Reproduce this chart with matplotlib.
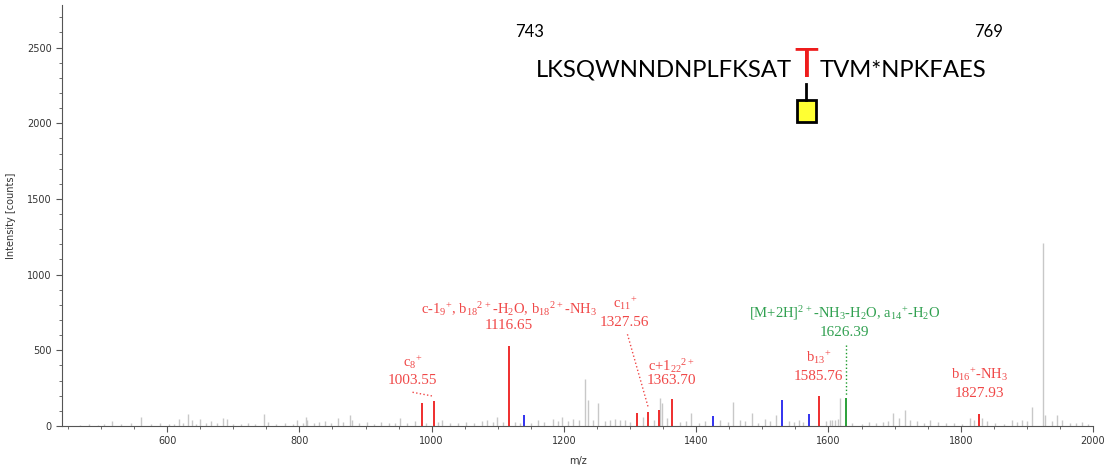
import matplotlib.pyplot as plt
from matplotlib.patches import Rectangle
from matplotlib.lines import Line2D
from matplotlib.ticker import MultipleLocator

plt.rcParams['mathtext.default'] = 'regular'

# unassigned peaks (grey)
grey_mz = [468, 482, 495, 505, 517, 530, 545, 561, 575, 589, 603, 610, 618, 624, 631, 638, 644,
           649, 658, 667, 676, 685, 690, 700, 712, 722, 733, 746, 752, 765, 778, 790, 797, 805,
           810, 812, 822, 830, 839, 848, 859, 866, 876, 880, 890, 902, 913, 924, 935, 944, 952,
           962, 975, 992, 1010, 1015, 1028, 1040, 1052, 1064, 1076, 1083, 1092, 1099, 1108, 1126,
           1134, 1150, 1161, 1170, 1183, 1191, 1197, 1206, 1214, 1222, 1232, 1236, 1244, 1251,
           1262, 1270, 1277, 1285, 1292, 1300, 1320, 1336, 1345, 1348, 1356, 1375, 1384, 1392,
           1404, 1414, 1436, 1448, 1456, 1466, 1474, 1484, 1494, 1504, 1512, 1521, 1540, 1548,
           1556, 1562, 1596, 1602, 1606, 1610, 1614, 1618, 1636, 1650, 1662, 1672, 1683, 1690,
           1698, 1706, 1715, 1724, 1734, 1745, 1754, 1765, 1778, 1790, 1802, 1814, 1820, 1832,
           1840, 1852, 1866, 1877, 1885, 1893, 1900, 1908, 1925, 1928, 1938, 1946, 1953, 1965,
           1975, 1983, 1992]
grey_int = [8, 12, 6, 10, 35, 14, 18, 60, 12, 20, 10, 14, 47, 22, 78, 40, 16,
            47, 18, 35, 20, 55, 44, 16, 12, 20, 14, 77, 24, 12, 18, 10, 40, 22,
            57, 40, 18, 26, 35, 20, 55, 28, 73, 40, 20, 24, 16, 25, 18, 22, 50,
            20, 30, 18, 24, 40, 22, 18, 26, 20, 30, 40, 26, 62, 24, 28,
            20, 22, 40, 26, 45, 30, 62, 30, 45, 38, 311, 172, 40, 150,
            35, 40, 45, 40, 38, 26, 62, 40, 183, 150, 50, 24, 30, 88,
            22, 35, 40, 28, 161, 40, 30, 88, 22, 46, 30, 73, 30, 24,
            40, 26, 35, 38, 40, 42, 44, 183, 22, 16, 24, 18, 26, 30,
            84, 50, 108, 40, 33, 20, 40, 24, 18, 22, 16, 51, 40, 50,
            30, 20, 16, 40, 24, 40, 30, 128, 1210, 73, 30, 73, 40, 22,
            18, 25, 16]

# assigned peaks
red_mz = [985, 1003.55, 1116.65, 1310, 1327.56, 1344, 1363.70, 1585.76, 1827.93]
red_int = [155, 168, 529, 84, 95, 106, 176, 196, 82]
blue_mz = [1140, 1426, 1529.5, 1571]
blue_int = [73, 66, 174, 79]
green_mz = [1626.39]
green_int = [187]

# annotations: ion names, m/z values, and where they sit
ann_names = [r'c$_{8}$$^{+}$',
             r'c-1$_{9}$$^{+}$, b$_{18}$$^{2+}$-H$_{2}$O, b$_{18}$$^{2+}$-NH$_{3}$',
             r'c$_{11}$$^{+}$',
             r'c+1$_{22}$$^{2+}$',
             r'[M+2H]$^{2+}$-NH$_{3}$-H$_{2}$O, a$_{14}$$^{+}$-H$_{2}$O',
             r'b$_{13}$$^{+}$',
             r'b$_{16}$$^{+}$-NH$_{3}$']
ann_vals = ['1003.55', '1116.65', '1327.56', '1363.70', '1626.39', '1585.76', '1827.93']
ann_x = [971, 1117, 1292, 1363, 1624.5, 1585, 1828]
ann_name_y = [423, 774, 807, 399, 745, 452, 342]
ann_val_y = [300, 663, 683, 300, 620, 326, 216]

red = '#ee1c1c'
red_txt = '#f04848'
green = '#1a9a2a'
green_txt = '#30a050'
blue = '#2222ee'
grey = '#c8c8c8'
ann_col = [red_txt, red_txt, red_txt, red_txt, green_txt, red_txt, red_txt]

fig = plt.figure(figsize=(11.09, 4.70), dpi=100)
ax = fig.add_axes([0.0559, 0.0936, 0.9297, 0.8954])

ax.vlines(grey_mz, 0, grey_int, color=grey, lw=1.0)
ax.vlines(red_mz, 0, red_int, color=red, lw=1.3)
ax.vlines(blue_mz, 0, blue_int, color=blue, lw=1.3)
ax.vlines(green_mz, 0, green_int, color=green, lw=1.3)

for name, val, x, ny, vy, c in zip(ann_names, ann_vals, ann_x, ann_name_y, ann_val_y, ann_col):
    ax.text(x, ny, name, color=c, ha='center', va='center', fontsize=10.5, family='Liberation Serif')
    ax.text(x, vy, val, color=c, ha='center', va='center', fontsize=11, family='Liberation Serif')

# dotted leader lines
ax.plot([971, 1003.55], [223, 196], ls=':', color=red_txt, lw=1)
ax.plot([1296, 1327.56], [606, 121], ls=':', color=red_txt, lw=1)
ax.plot([1626.39, 1626.39], [536, 205], ls=':', color=green, lw=1)

ax.set_xlim(441, 2000)
ax.set_ylim(0, 2780)
ax.xaxis.set_major_locator(MultipleLocator(200))
ax.xaxis.set_minor_locator(MultipleLocator(50))
ax.yaxis.set_major_locator(MultipleLocator(500))
ax.yaxis.set_minor_locator(MultipleLocator(100))
for s in ['top', 'right']:
    ax.spines[s].set_visible(False)
for s in ['left', 'bottom']:
    ax.spines[s].set_color('#555555')
ax.tick_params(which='major', length=4, colors='#555555', labelsize=7, labelcolor='#333333')
ax.tick_params(which='minor', length=2.5, colors='#555555')
ax.set_xlabel('m/z', fontsize=7, color='#333333', labelpad=7)
ax.set_ylabel('Intensity [counts]', fontsize=7, color='#333333', labelpad=8)

# peptide sequence
W, H = 1109, 470
seq_font = 'Lato'
fig.text(515 / W, 1 - 37 / H, '743', fontsize=12, family=seq_font, ha='left', va='baseline')
fig.text(1003 / W, 1 - 37 / H, '769', fontsize=12, family=seq_font, ha='right', va='baseline')
fig.text(792 / W, 1 - 77 / H, 'LKSQWNNDNPLFKSAT', fontsize=17.2, family=seq_font, ha='right', va='baseline')
fig.text(806 / W, 1 - 77 / H, 'T', fontsize=29, family=seq_font, color=red, ha='center', va='baseline')
fig.text(820 / W, 1 - 77 / H, 'TVM*NPKFAES', fontsize=17.2, family=seq_font, ha='left', va='baseline')
fig.add_artist(Line2D([806 / W, 806 / W], [1 - 84 / H, 1 - 100 / H], color='black', lw=2))
fig.add_artist(Rectangle((797 / W, 1 - 122 / H), 19 / W, 22 / H, facecolor='#ffff33',
                         edgecolor='black', lw=2))

plt.savefig('out.png', dpi=100)
